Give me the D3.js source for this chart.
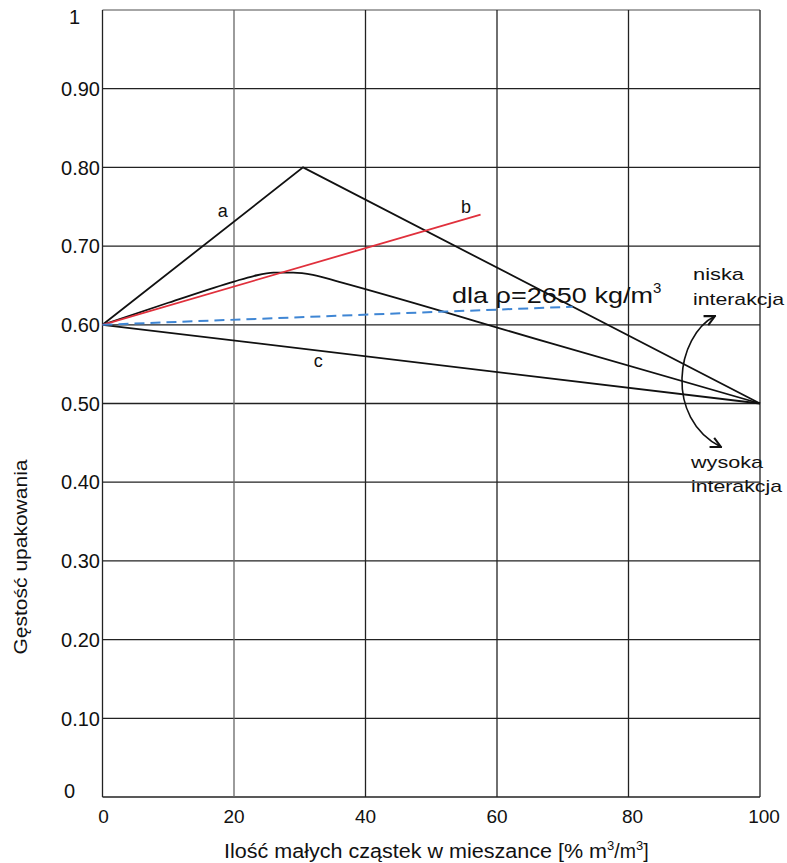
<!DOCTYPE html>
<html><head><meta charset="utf-8">
<script src="https://cdn.jsdelivr.net/npm/d3@7"></script>
<style>body{margin:0;background:#fff;} text{font-family:"Liberation Sans",Arial,sans-serif;}</style>
</head><body>
<svg id="c" width="787" height="863"></svg>
<script>
const xTicks = [0,20,40,60,80,100];
const yTicks = [0,0.1,0.2,0.3,0.4,0.5,0.6,0.7,0.8,0.9,1];
const yTickLabels = ["0","0.10","0.20","0.30","0.40","0.50","0.60","0.70","0.80","0.90","1"];
const lineA = [[0,0.6],[30.5,0.8],[100,0.5]];
const lineB = [[0,0.6],[57.5,0.74]];
const lineMid = [[0,0.6],[10,0.628],[20,0.655],[23,0.662],[26,0.6662],[29,0.6662],[32,0.6635],[36,0.6545],[68,0.577],[100,0.5]];
const lineC = [[0,0.6],[100,0.5]];
const lineDash = [[0,0.6],[71.5,0.623]];
const labels = [{t:"a",x:18.3,y:0.745},{t:"b",x:55.3,y:0.75},{t:"c",x:32.8,y:0.555}];

const svg = d3.select("#c");
const L=102.5,R=760,T=10,B=797;
const x = d3.scaleLinear().domain([0,100]).range([L,R]);
const y = d3.scaleLinear().domain([0,1]).range([B,T]);

// grid
svg.append("g").selectAll("line").data(yTicks).join("line")
  .attr("x1",L).attr("x2",R).attr("y1",d=>y(d)).attr("y2",d=>y(d))
  .attr("stroke",(d)=>d===1?"#888":"#222").attr("stroke-width",1.3);
svg.append("g").selectAll("line").data(xTicks).join("line")
  .attr("x1",d=>x(d)).attr("x2",d=>x(d)).attr("y1",T).attr("y2",B)
  .attr("stroke",(d)=>d===20?"#666":"#222").attr("stroke-width",1.3);

// tick labels
svg.append("g").selectAll("text").data(yTicks).join("text")
  .attr("x",(d)=> d===1?80: d===0?75:100)
  .attr("y",(d)=> d===1?y(d)+7: d===0? y(d)-6 : y(d))
  .attr("dy","0.36em").attr("text-anchor","end").attr("font-size",20).attr("fill","#111")
  .text((d,i)=>yTickLabels[i]);
svg.append("g").selectAll("text").data(xTicks).join("text")
  .attr("x",d=>x(d)+(d>=80?4:(d===0?1:0))).attr("y",823).attr("text-anchor","middle").attr("font-size",19).attr("fill","#111")
  .text(d=>d);

// titles
const xt = svg.append("text").attr("x",224).attr("y",858).attr("font-size",19.5).attr("fill","#111");
xt.append("tspan").attr("textLength",383).attr("lengthAdjust","spacingAndGlyphs").text("Ilość małych cząstek w mieszance [% m");
xt.append("tspan").attr("dy",-8).attr("font-size",13).text("3");
xt.append("tspan").attr("dy",8).text("/m");
xt.append("tspan").attr("dy",-8).attr("font-size",13).text("3");
xt.append("tspan").attr("dy",8).text("]");
svg.append("text").attr("transform","translate(27,557) rotate(-90)").attr("text-anchor","middle")
  .attr("font-size",17.5).attr("fill","#111").attr("textLength",195).attr("lengthAdjust","spacingAndGlyphs")
  .text("Gęstość upakowania");

const line = d3.line().x(d=>x(d[0])).y(d=>y(d[1]));
const smooth = d3.line().x(d=>x(d[0])).y(d=>y(d[1])).curve(d3.curveMonotoneX);
svg.append("path").attr("d",line(lineA)).attr("fill","none").attr("stroke","#111").attr("stroke-width",1.8);
svg.append("path").attr("d",smooth(lineMid)).attr("fill","none").attr("stroke","#111").attr("stroke-width",1.8);
svg.append("path").attr("d",line(lineC)).attr("fill","none").attr("stroke","#111").attr("stroke-width",1.8);
svg.append("path").attr("d",line(lineB)).attr("fill","none").attr("stroke","#e0303c").attr("stroke-width",1.8);
svg.append("path").attr("d",line(lineDash)).attr("fill","none").attr("stroke","#3f86d4").attr("stroke-width",2).attr("stroke-dasharray","10,6");

svg.append("g").selectAll("text").data(labels).join("text")
  .attr("x",d=>x(d.x)).attr("y",d=>y(d.y)).attr("dy","0.35em").attr("text-anchor","middle")
  .attr("font-size",18).attr("fill","#111").text(d=>d.t);

const dl = svg.append("text").attr("x",452).attr("y",303).attr("font-size",22.5).attr("fill","#111");
dl.append("tspan").attr("textLength",201).attr("lengthAdjust","spacingAndGlyphs").text("dla ρ=2650 kg/m");
dl.append("tspan").attr("dy",-10).attr("font-size",15).text("3");

function ann(t,xx,yy,w){
  svg.append("text").attr("x",xx).attr("y",yy).attr("font-size",17).attr("fill","#111")
    .attr("textLength",w).attr("lengthAdjust","spacingAndGlyphs").text(t);
}
ann("niska",693,280,51);
ann("interakcja",693,305,91);
ann("wysoka",691,468,72);
ann("interakcja",691,492,91);

// arrow
const defs = svg.append("defs");
defs.append("marker").attr("id","ah").attr("viewBox","0 0 10 10").attr("refX",9).attr("refY",5)
  .attr("markerWidth",8).attr("markerHeight",8).attr("orient","auto-start-reverse")
  .append("path").attr("d","M1,1 L9,5 L1,9").attr("fill","none").attr("stroke","#111").attr("stroke-width",1.6);
svg.append("path").attr("d","M715,316 C676,336 664,418 721,447").attr("fill","none").attr("stroke","#111")
  .attr("stroke-width",1.6).attr("marker-start","url(#ah)").attr("marker-end","url(#ah)");
</script>
</body></html>
